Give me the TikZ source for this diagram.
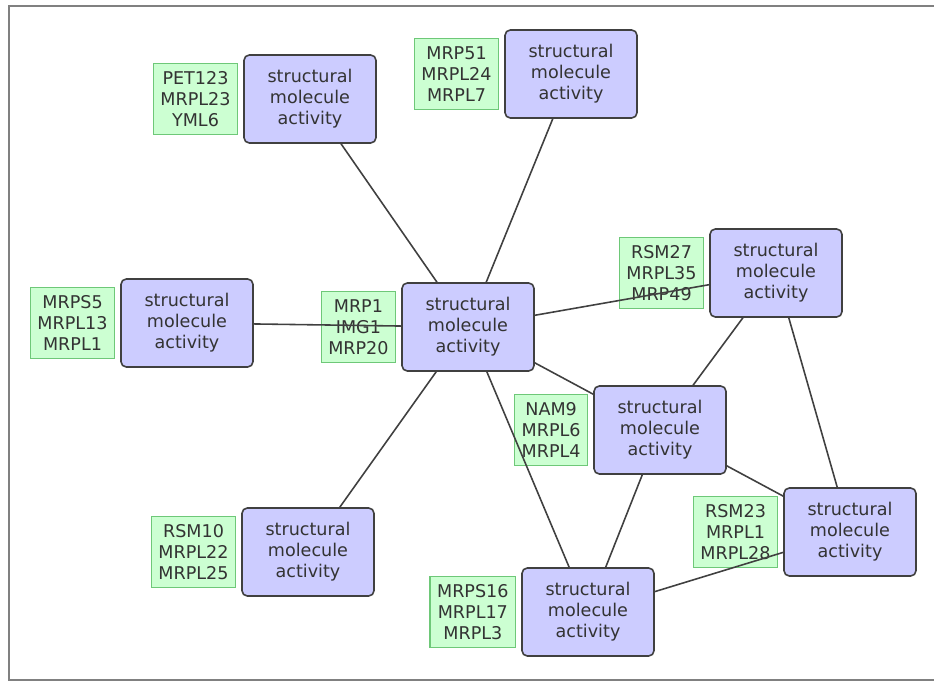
\documentclass[tikz,border=0pt]{standalone}
\usepackage{fontspec}
\setmainfont{DejaVu Sans}
\usetikzlibrary{positioning}

\begin{document}
\begin{tikzpicture}[
    x=0.02cm, y=-0.02cm,
    node distance = 0.1cm,
    func/.style = {rectangle, rounded corners=3pt, draw=black!75, line width=0.9pt, fill={rgb,255:red,204;green,204;blue,255}, minimum width=2.64cm, minimum height=1.76cm, inner sep=0pt, align=center, text=black!80, font=\fontsize{10}{12}\selectfont},
    genes/.style = {rectangle, draw={rgb,255:red,110;green,200;blue,120}, line width=0.7pt, fill={rgb,255:red,204;green,255;blue,210}, minimum width=1.45cm, minimum height=1.42cm, inner xsep=4pt, inner ysep=0pt, align=center, text=black!80, font=\fontsize{10}{12}\selectfont},
    link/.style = {draw=black!75, line width=0.9pt}
]
    \useasboundingbox (0,0) rectangle (934,682);
    \draw[black!50, line width=1.2pt] (934,6) -- (9,6) -- (9,680) -- (934,680);

    \node[func] (ctr) at (468,327) {structural \\ molecule \\ activity};
    \node[func] (tl) at (310,99) {structural \\ molecule \\ activity};
    \node[func] (tm) at (571,74) {structural \\ molecule \\ activity};
    \node[func] (lft) at (187,323) {structural \\ molecule \\ activity};
    \node[func] (ru) at (776,273) {structural \\ molecule \\ activity};
    \node[func] (mr) at (660,430) {structural \\ molecule \\ activity};
    \node[func] (fr) at (850,532) {structural \\ molecule \\ activity};
    \node[func] (bl) at (308,552) {structural \\ molecule \\ activity};
    \node[func] (bot) at (588,612) {structural \\ molecule \\ activity};

    \node[genes, left=of ctr] (gctr) {MRP1 \\ IMG1 \\ MRP20};
    \node[genes, left=of tl] (gtl) {PET123 \\ MRPL23 \\ YML6};
    \node[genes, left=of tm] (gtm) {MRP51 \\ MRPL24 \\ MRPL7};
    \node[genes, left=of lft] (glft) {MRPS5 \\ MRPL13 \\ MRPL1};
    \node[genes, left=of ru] (gru) {RSM27 \\ MRPL35 \\ MRP49};
    \node[genes, left=of mr] (gmr) {NAM9 \\ MRPL6 \\ MRPL4};
    \node[genes, left=of fr] (gfr) {RSM23 \\ MRPL1 \\ MRPL28};
    \node[genes, left=of bl] (gbl) {RSM10 \\ MRPL22 \\ MRPL25};
    \node[genes, left=of bot] (gbot) {MRPS16 \\ MRPL17 \\ MRPL3};

    \draw[link] (ctr) -- (tl);
    \draw[link] (ctr) -- (tm);
    \draw[link] (ctr) -- (lft);
    \draw[link] (ctr) -- (bl);
    \draw[link] (ctr) -- (ru);
    \draw[link] (ctr) -- (mr);
    \draw[link] (ctr) -- (bot);
    \draw[link] (ru) -- (mr);
    \draw[link] (ru) -- (fr);
    \draw[link] (mr) -- (fr);
    \draw[link] (mr) -- (bot);
    \draw[link] (bot) -- (fr);
\end{tikzpicture}
\end{document}
